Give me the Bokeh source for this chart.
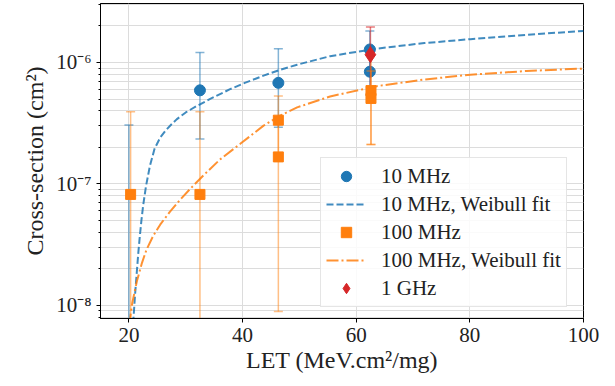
from bokeh.plotting import figure
from bokeh.models import (Range1d, FixedTicker, CustomJSTickFormatter,
                          Legend, LegendItem)
from bokeh.embed import file_html
from bokeh.resources import INLINE

# ---- data ----
let_10 = [20.0, 32.5, 46.3, 62.4, 62.4]
cs_10 = [1.0e-9, 5.9e-7, 6.8e-7, 1.28e-6, 8.4e-7]
lo_10 = [1.0e-9, 2.35e-7, 2.93e-7, 8.0e-7, 5.4e-7]
hi_10 = [3.05e-7, 1.21e-6, 1.30e-6, 1.82e-6, 1.2e-6]

let_100 = [20.3, 32.5, 46.3, 46.3, 62.6, 62.6]
cs_100 = [8.2e-8, 8.2e-8, 3.35e-7, 1.67e-7, 5.87e-7, 5.06e-7]
lo_100 = [1.0e-9, 1.0e-9, 1.7e-7, 8.9e-9, 2.11e-7, 2.11e-7]
hi_100 = [3.93e-7, 3.93e-7, 5.3e-7, 3.2e-7, 1.16e-6, 8.5e-7]

let_1g = [62.5]
cs_1g = [1.16e-6]
lo_1g = [5.6e-7]
hi_1g = [1.96e-6]

fit10_let = [20.6, 20.8, 21.1, 21.4, 21.65, 21.9, 22.2, 22.5, 23.0, 23.7,
             24.5, 25.5, 26.5, 27.5, 28.4, 30.0, 31.9, 34.3, 37.8, 40.5,
             43.7, 46.5, 49.6, 55.4, 63.6, 72.0, 80.1, 90.0, 100.0]
fit10_cs = [4.0e-9, 7.8e-9, 1.26e-8, 1.91e-8, 2.69e-8, 3.63e-8, 5.01e-8,
            6.61e-8, 9.55e-8, 1.41e-7, 1.94e-7, 2.41e-7, 2.77e-7, 3.10e-7,
            3.40e-7, 3.88e-7, 4.37e-7, 5.01e-7, 6.03e-7, 6.82e-7, 7.80e-7,
            8.67e-7, 9.59e-7, 1.127e-6, 1.30e-6, 1.445e-6, 1.556e-6,
            1.69e-6, 1.82e-6]

fit100_let = [19.9, 20.2, 20.6, 21.4, 22.3, 23.1, 24.3, 25.5, 27.2, 29.0,
              31.0, 33.1, 36.0, 39.6, 43.7, 46.5, 49.6, 55.4, 63.6, 72.0,
              80.1, 90.0, 100.0]
fit100_cs = [3.2e-9, 7.8e-9, 1.05e-8, 1.58e-8, 2.24e-8, 2.88e-8, 3.76e-8,
             4.62e-8, 5.89e-8, 7.41e-8, 9.33e-8, 1.175e-7, 1.585e-7,
             2.14e-7, 3.02e-7, 3.63e-7, 4.27e-7, 5.25e-7, 6.38e-7, 7.24e-7,
             7.94e-7, 8.51e-7, 8.91e-7]

x_ticks = [20, 40, 60, 80, 100]
y_ticks = [1e-8, 1e-7, 1e-6]

BLUE = "#1f77b4"
ORANGE = "#ff7f0e"
RED = "#d62728"
FONT = "Liberation Serif"

p = figure(width=615, height=386, x_range=Range1d(15, 100),
           y_range=Range1d(7.8e-9, 3.06e-6), y_axis_type="log",
           output_backend="svg", toolbar_location=None,
           min_border_left=100, min_border_right=32,
           min_border_top=3, min_border_bottom=68)

p.background_fill_color = "white"
p.outline_line_color = "black"
p.outline_line_width = 1

# axes
p.xaxis.ticker = FixedTicker(ticks=x_ticks)
minor = [k * 10.0 ** e for e in (-9, -8, -7, -6) for k in range(2, 10)]
p.yaxis.ticker = FixedTicker(ticks=y_ticks, minor_ticks=minor)
p.yaxis.formatter = CustomJSTickFormatter(code="""
const e = Math.round(Math.log10(tick));
const m = {"-":"\\u207b","0":"\\u2070","1":"\\u00b9","2":"\\u00b2","3":"\\u00b3",
           "4":"\\u2074","5":"\\u2075","6":"\\u2076","7":"\\u2077","8":"\\u2078","9":"\\u2079"};
return "10" + String(e).split("").map(c => m[c]).join("");
""")
p.xaxis.axis_label = "LET (MeV.cm\u00b2/mg)"
p.yaxis.axis_label = "Cross-section (cm\u00b2)"
for ax in (p.xaxis[0], p.yaxis[0]):
    ax.axis_line_color = "black"
    ax.major_tick_line_color = "black"
    ax.minor_tick_line_color = "black"
    ax.major_tick_out = 4
    ax.major_tick_in = 0
    ax.minor_tick_in = 0
    ax.major_label_text_font = FONT
    ax.major_label_text_font_size = "21px"
    ax.major_label_text_color = "#222222"
    ax.axis_label_text_font = FONT
    ax.axis_label_text_font_size = "24px"
    ax.axis_label_text_font_style = "normal"
    ax.axis_label_text_color = "#222222"
    ax.major_label_standoff = 5
p.xaxis.minor_tick_out = 0
p.yaxis.minor_tick_out = 2
p.xaxis.axis_label_standoff = 2
p.yaxis.axis_label_standoff = 5

p.xgrid.grid_line_color = "#dcdcdc"
p.ygrid.grid_line_color = "#dcdcdc"
p.ygrid.minor_grid_line_color = "#dcdcdc"
p.xgrid.grid_line_width = 1
p.ygrid.grid_line_width = 1

# fits
r_fit10 = p.line(fit10_let, fit10_cs, line_color=BLUE, line_width=2,
                 line_dash="7 3", line_alpha=0.85)
r_fit100 = p.line(fit100_let, fit100_cs, line_color=ORANGE, line_width=2,
                  line_dash="12 3 2 3", line_alpha=0.85)


def errbars(x, lo, hi, color, alpha):
    p.segment(x0=x, y0=lo, x1=x, y1=hi, line_color=color,
              line_alpha=alpha, line_width=1.5)
    p.scatter(x, lo, marker="dash", size=9, line_color=color,
              line_alpha=alpha, line_width=1.5)
    p.scatter(x, hi, marker="dash", size=9, line_color=color,
              line_alpha=alpha, line_width=1.5)


errbars(let_10, lo_10, hi_10, BLUE, 0.55)
r10 = p.scatter(let_10, cs_10, marker="circle", size=11,
                fill_color=BLUE, line_color=BLUE)
errbars(let_1g, lo_1g, hi_1g, RED, 0.6)
errbars(let_100, lo_100, hi_100, ORANGE, 0.5)
r100 = p.scatter(let_100, cs_100, marker="square", size=10,
                 fill_color=ORANGE, line_color=ORANGE)
r1g = p.scatter(let_1g, cs_1g, marker="diamond", size=16,
                fill_color=RED, line_color=RED)

legend = Legend(items=[
    LegendItem(label="10 MHz", renderers=[r10]),
    LegendItem(label="10 MHz, Weibull fit", renderers=[r_fit10]),
    LegendItem(label="100 MHz", renderers=[r100]),
    LegendItem(label="100 MHz, Weibull fit", renderers=[r_fit100]),
    LegendItem(label="1 GHz", renderers=[r1g]),
], location=(220, 11))
legend.glyph_width = 40
legend.glyph_height = 26
legend.label_height = 20
legend.label_standoff = 15
legend.spacing = 2
legend.padding = 5
legend.margin = 0
legend.label_width = 178
legend.label_text_font = FONT
legend.label_text_font_size = "21px"
legend.label_text_color = "#222222"
legend.border_line_color = "#cccccc"
legend.border_line_width = 1
legend.background_fill_alpha = 0.85
p.add_layout(legend)

open("out.html", "w").write(file_html(p, INLINE))
